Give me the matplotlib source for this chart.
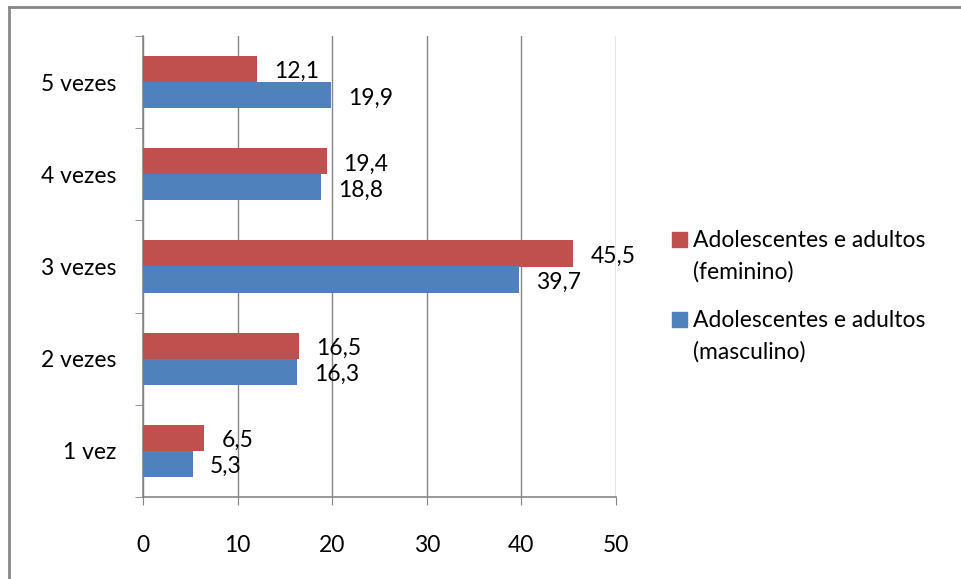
import matplotlib.pyplot as plt
import numpy as np
from matplotlib.lines import Line2D
from matplotlib.patches import Rectangle

categorias = ['1 vez', '2 vezes', '3 vezes', '4 vezes', '5 vezes']
feminino = [6.5, 16.5, 45.5, 19.4, 12.1]
masculino = [5.3, 16.3, 39.7, 18.8, 19.9]
rotulos = ['Adolescentes e adultos\n(feminino)', 'Adolescentes e adultos\n(masculino)']
cores = ['#C0504D', '#4F81BD']

plt.rcParams['font.family'] = ['Lato', 'DejaVu Sans']
cinza = '#868686'
fs = 16.5
W, H = 962, 579

fig = plt.figure(figsize=(W/100, H/100), dpi=100)
ax = fig.add_axes([143/W, 1 - 497/H, (616 - 143)/W, (497 - 36)/H])

y = np.arange(len(categorias))
h = 0.283
ax.barh(y + h/2, feminino, height=h, color=cores[0], zorder=3)
ax.barh(y - h/2, masculino, height=h, color=cores[1], zorder=3)

# rótulos de dados à direita de cada barra
for i in range(len(categorias)):
    ax.text(feminino[i] + 1.8, y[i] + h/2 - 0.03, f'{feminino[i]:.1f}'.replace('.', ','),
            va='center', ha='left', fontsize=fs)
    ax.text(masculino[i] + 1.8, y[i] - h/2 - 0.03, f'{masculino[i]:.1f}'.replace('.', ','),
            va='center', ha='left', fontsize=fs)

ax.set_xlim(0, 50)
ax.set_ylim(-0.5, 4.5)
ax.set_xticks(range(0, 51, 10))
ax.set_yticks(y)
ax.set_yticklabels(categorias)
ax.set_yticks(np.arange(-0.5, 5, 1), minor=True)
ax.tick_params(axis='y', which='major', length=0, pad=19, labelsize=fs)
ax.tick_params(axis='y', which='minor', length=6, color=cinza, direction='out')
ax.tick_params(axis='x', length=6, color=cinza, pad=21, labelsize=fs)

ax.grid(axis='x', color=cinza, linewidth=1, zorder=0)
for s in ['top', 'right']:
    ax.spines[s].set_visible(False)
for s in ['left', 'bottom']:
    ax.spines[s].set_color(cinza)
    ax.spines[s].set_linewidth(1.2)

# legenda: quadrado alinhado com a primeira linha do texto
for k, (rot, cor) in enumerate(zip(rotulos, cores)):
    topo = 232 + 80 * k
    fig.add_artist(Rectangle((672/W, 1 - (topo + 15)/H), 15/W, 15/H, color=cor,
                             transform=fig.transFigure))
    for j, linha in enumerate(rot.split('\n')):
        fig.text(693/W, 1 - (topo + 15 + 32 * j)/H, linha, fontsize=fs,
                 ha='left', va='baseline')

# moldura do gráfico (topo e lado esquerdo)
fig.add_artist(Line2D([9/W, 1], [1 - 6.5/H] * 2, color='#888888', linewidth=2, transform=fig.transFigure))
fig.add_artist(Line2D([9/W] * 2, [0, 1 - 6.5/H], color='#888888', linewidth=2, transform=fig.transFigure))

fig.savefig('out.png', dpi=100)
